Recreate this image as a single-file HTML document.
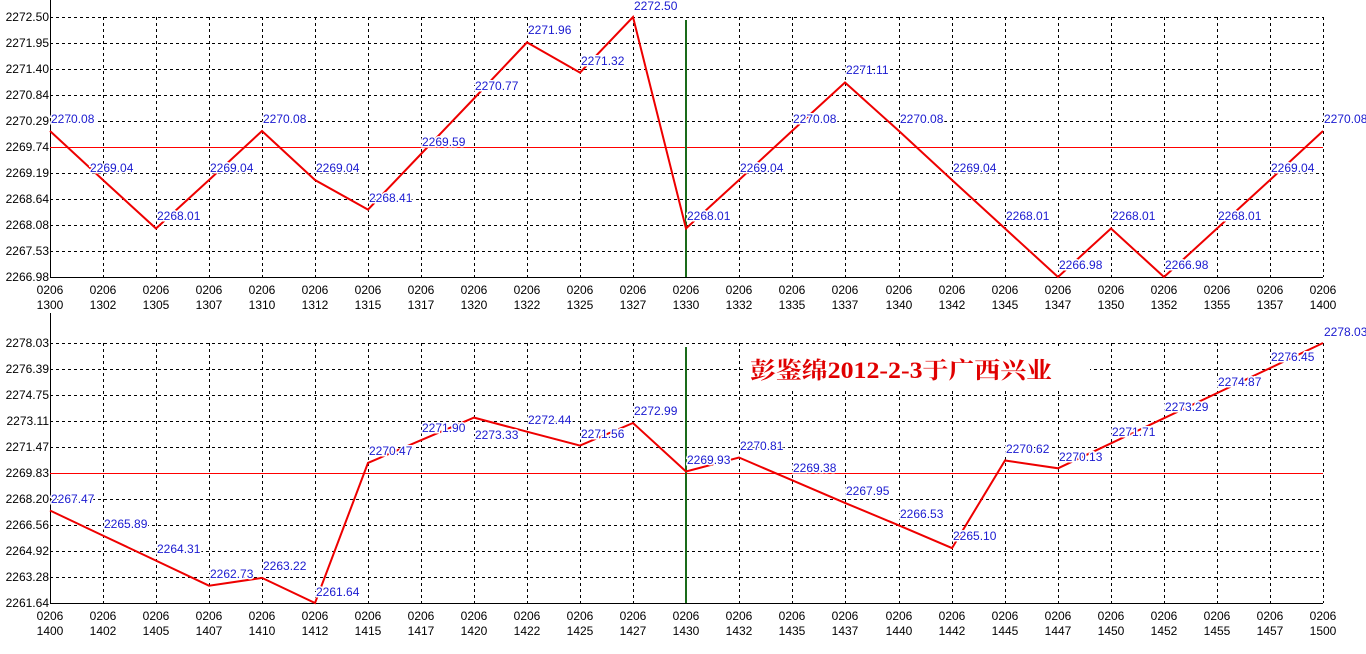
<!DOCTYPE html>
<html><head><meta charset="utf-8"><style>
html,body{margin:0;padding:0;background:#fff;width:1366px;height:654px;overflow:hidden}
svg{display:block}
.ax{font-family:"Liberation Sans",sans-serif;font-size:12px;fill:#000}
.lb{font-family:"Liberation Sans",sans-serif;font-size:12px;fill:#1a1ad0;paint-order:stroke;stroke:#fff;stroke-width:3px}
.g{stroke:#000;stroke-width:1;stroke-dasharray:3,3;fill:none}
</style></head><body>
<svg width="1366" height="654" xmlns="http://www.w3.org/2000/svg">
<g class="g">
<path d="M50 17.5H1323M50 43.5H1323M50 69.5H1323M50 95.5H1323M50 121.5H1323M50 173.5H1323M50 199.5H1323M50 225.5H1323M50 251.5H1323"/>
<path d="M50 343.5H1323M50 369.5H1323M50 395.5H1323M50 421.5H1323M50 447.5H1323M50 499.5H1323M50 525.5H1323M50 551.5H1323M50 577.5H1323"/>
<path d="M103.5 17V277M156.5 17V277M209.5 17V277M262.5 17V277M315.5 17V277M368.5 17V277M421.5 17V277M474.5 17V277M527.5 17V277M580.5 17V277M633.5 17V277M739.5 17V277M792.5 17V277M845.5 17V277M899.5 17V277M952.5 17V277M1005.5 17V277M1058.5 17V277M1111.5 17V277M1164.5 17V277M1217.5 17V277M1270.5 17V277M1323.5 17V277"/>
<path d="M103.5 343V603M156.5 343V603M209.5 343V603M262.5 343V603M315.5 343V603M368.5 343V603M421.5 343V603M474.5 343V603M527.5 343V603M580.5 343V603M633.5 343V603M739.5 343V603M792.5 343V603M845.5 343V603M899.5 343V603M952.5 343V603M1005.5 343V603M1058.5 343V603M1111.5 343V603M1164.5 343V603M1217.5 343V603M1270.5 343V603M1323.5 343V603"/>
</g>
<path d="M50.5 0V277.5H1323M50.5 313V603.5H1323" stroke="#000" fill="none"/>
<line x1="50" y1="147.5" x2="1323" y2="147.5" stroke="#f00" stroke-width="1"/>
<line x1="50" y1="473.5" x2="1323" y2="473.5" stroke="#f00" stroke-width="1"/>
<line x1="686" y1="20" x2="686" y2="277" stroke="#1a6b1a" stroke-width="2"/>
<line x1="686" y1="347" x2="686" y2="603" stroke="#1a6b1a" stroke-width="2"/>
<polyline fill="none" stroke="#e00" stroke-width="2" points="50,131 103,180 156,228.5 209,180 262,131 315,180 368,209.6 421,154 474,98.5 527,42.4 580,72.6 633,17 686,228.5 739,180 792,131 845,82.5 899,131 952,180 1005,228.5 1058,277 1111,228.5 1164,277 1217,228.5 1270,180 1323,131"/>
<polyline fill="none" stroke="#e00" stroke-width="2" points="50,510.5 103,535.6 156,560.6 209,585.7 262,577.9 315,603 368,462.9 421,440.2 474,417.6 527,431.7 580,445.6 633,423 686,471.5 739,457.5 792,480.2 845,502.9 899,525.4 952,548.1 1005,460.5 1058,468.3 1111,443.3 1164,418.2 1217,393.1 1270,368.1 1323,343"/>
<g class="lb">
<text x="51" y="123">2270.08</text><text x="90" y="172">2269.04</text><text x="157" y="220">2268.01</text><text x="210" y="172">2269.04</text><text x="263" y="123">2270.08</text><text x="316" y="172">2269.04</text><text x="369" y="202">2268.41</text><text x="422" y="146">2269.59</text><text x="475" y="90">2270.77</text><text x="528" y="34">2271.96</text><text x="581" y="65">2271.32</text><text x="634" y="10">2272.50</text><text x="687" y="220">2268.01</text><text x="740" y="172">2269.04</text><text x="793" y="123">2270.08</text><text x="846" y="74">2271.11</text><text x="900" y="123">2270.08</text><text x="953" y="172">2269.04</text><text x="1006" y="220">2268.01</text><text x="1059" y="269">2266.98</text><text x="1112" y="220">2268.01</text><text x="1165" y="269">2266.98</text><text x="1218" y="220">2268.01</text><text x="1271" y="172">2269.04</text><text x="1324" y="123">2270.08</text>
<text x="51" y="503">2267.47</text><text x="104" y="528">2265.89</text><text x="157" y="553">2264.31</text><text x="210" y="578">2262.73</text><text x="263" y="570">2263.22</text><text x="316" y="596">2261.64</text><text x="369" y="455">2270.47</text><text x="422" y="432">2271.90</text><text x="475" y="439">2273.33</text><text x="528" y="424">2272.44</text><text x="581" y="438">2271.56</text><text x="634" y="415">2272.99</text><text x="687" y="464">2269.93</text><text x="740" y="450">2270.81</text><text x="793" y="472">2269.38</text><text x="846" y="495">2267.95</text><text x="900" y="518">2266.53</text><text x="953" y="540">2265.10</text><text x="1006" y="453">2270.62</text><text x="1059" y="461">2270.13</text><text x="1112" y="436">2271.71</text><text x="1165" y="411">2273.29</text><text x="1218" y="386">2274.87</text><text x="1271" y="361">2276.45</text><text x="1324" y="336">2278.03</text>
</g>
<g class="ax" text-anchor="end">
<text x="49" y="21">2272.50</text><text x="49" y="47">2271.95</text><text x="49" y="73">2271.40</text><text x="49" y="99">2270.84</text><text x="49" y="125">2270.29</text><text x="49" y="151">2269.74</text><text x="49" y="177">2269.19</text><text x="49" y="203">2268.64</text><text x="49" y="229">2268.08</text><text x="49" y="255">2267.53</text><text x="49" y="281">2266.98</text>
<text x="49" y="347">2278.03</text><text x="49" y="373">2276.39</text><text x="49" y="399">2274.75</text><text x="49" y="425">2273.11</text><text x="49" y="451">2271.47</text><text x="49" y="477">2269.83</text><text x="49" y="503">2268.20</text><text x="49" y="529">2266.56</text><text x="49" y="555">2264.92</text><text x="49" y="581">2263.28</text><text x="49" y="607">2261.64</text>
</g>
<g class="ax" text-anchor="middle">
<text x="50" y="294">0206</text><text x="103" y="294">0206</text><text x="156" y="294">0206</text><text x="209" y="294">0206</text><text x="262" y="294">0206</text><text x="315" y="294">0206</text><text x="368" y="294">0206</text><text x="421" y="294">0206</text><text x="474" y="294">0206</text><text x="527" y="294">0206</text><text x="580" y="294">0206</text><text x="633" y="294">0206</text><text x="686" y="294">0206</text><text x="739" y="294">0206</text><text x="792" y="294">0206</text><text x="845" y="294">0206</text><text x="899" y="294">0206</text><text x="952" y="294">0206</text><text x="1005" y="294">0206</text><text x="1058" y="294">0206</text><text x="1111" y="294">0206</text><text x="1164" y="294">0206</text><text x="1217" y="294">0206</text><text x="1270" y="294">0206</text><text x="1323" y="294">0206</text>
<text x="50" y="309">1300</text><text x="103" y="309">1302</text><text x="156" y="309">1305</text><text x="209" y="309">1307</text><text x="262" y="309">1310</text><text x="315" y="309">1312</text><text x="368" y="309">1315</text><text x="421" y="309">1317</text><text x="474" y="309">1320</text><text x="527" y="309">1322</text><text x="580" y="309">1325</text><text x="633" y="309">1327</text><text x="686" y="309">1330</text><text x="739" y="309">1332</text><text x="792" y="309">1335</text><text x="845" y="309">1337</text><text x="899" y="309">1340</text><text x="952" y="309">1342</text><text x="1005" y="309">1345</text><text x="1058" y="309">1347</text><text x="1111" y="309">1350</text><text x="1164" y="309">1352</text><text x="1217" y="309">1355</text><text x="1270" y="309">1357</text><text x="1323" y="309">1400</text>
<text x="50" y="620">0206</text><text x="103" y="620">0206</text><text x="156" y="620">0206</text><text x="209" y="620">0206</text><text x="262" y="620">0206</text><text x="315" y="620">0206</text><text x="368" y="620">0206</text><text x="421" y="620">0206</text><text x="474" y="620">0206</text><text x="527" y="620">0206</text><text x="580" y="620">0206</text><text x="633" y="620">0206</text><text x="686" y="620">0206</text><text x="739" y="620">0206</text><text x="792" y="620">0206</text><text x="845" y="620">0206</text><text x="899" y="620">0206</text><text x="952" y="620">0206</text><text x="1005" y="620">0206</text><text x="1058" y="620">0206</text><text x="1111" y="620">0206</text><text x="1164" y="620">0206</text><text x="1217" y="620">0206</text><text x="1270" y="620">0206</text><text x="1323" y="620">0206</text>
<text x="50" y="635">1400</text><text x="103" y="635">1402</text><text x="156" y="635">1405</text><text x="209" y="635">1407</text><text x="262" y="635">1410</text><text x="315" y="635">1412</text><text x="368" y="635">1415</text><text x="421" y="635">1417</text><text x="474" y="635">1420</text><text x="527" y="635">1422</text><text x="580" y="635">1425</text><text x="633" y="635">1427</text><text x="686" y="635">1430</text><text x="739" y="635">1432</text><text x="792" y="635">1435</text><text x="845" y="635">1437</text><text x="899" y="635">1440</text><text x="952" y="635">1442</text><text x="1005" y="635">1445</text><text x="1058" y="635">1447</text><text x="1111" y="635">1450</text><text x="1164" y="635">1452</text><text x="1217" y="635">1455</text><text x="1270" y="635">1457</text><text x="1323" y="635">1500</text>
</g>
<rect x="745" y="349" width="345" height="42" fill="#fff"/>
<text x="750" y="378" fill="#e00000" font-family="'Liberation Serif','Noto Serif CJK SC',serif" font-weight="bold" font-size="23" textLength="302" lengthAdjust="spacingAndGlyphs">彭鉴绵2012-2-3于广西兴业</text>
</svg>
</body></html>
